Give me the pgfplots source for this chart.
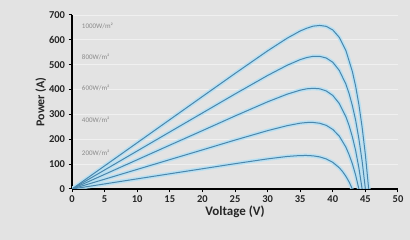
\documentclass[border=0pt]{standalone}
\usepackage{pgfplots}
\pgfplotsset{compat=1.18}
\usepackage{fontspec}
\setmainfont{Carlito}
\definecolor{bg}{HTML}{E3E3E3}
\definecolor{gridc}{HTML}{F0F0F0}
\definecolor{ln}{HTML}{4A86AC}
\definecolor{halo}{HTML}{B3E0F5}
\definecolor{lbl}{HTML}{8A8A8A}
\begin{document}
\begin{tikzpicture}
\fill[bg] (0,0) rectangle (410pt,240pt);
\useasboundingbox (0,0) rectangle (410pt,240pt);
\begin{axis}[
  at={(72pt,51pt)}, anchor=south west,
  scale only axis, width=326pt, height=174pt,
  xmin=0, xmax=50, ymin=0, ymax=700,
  xtick={0,5,...,50}, ytick={0,100,...,700},
  axis x line*=bottom, axis y line*=left,
  axis line style={black, line width=1.1pt},
  tick align=outside, major tick length=3.5pt,
  tick style={black, line width=1pt},
  xmajorgrids=false, ymajorgrids=true, grid style={gridc, line width=0.9pt},
  ticklabel style={font=\bfseries\fontsize{10.5}{11}\selectfont, text=black!85},
  /pgf/number format/assume math mode=true,
  xlabel={\bfseries Voltage (V)}, ylabel={\bfseries Power (A)},
  xlabel style={font=\fontsize{13}{14}\selectfont\bfseries, text=black!85, yshift=4pt},
  ylabel style={font=\fontsize{12}{13}\selectfont\bfseries, text=black!85, yshift=-4pt},
  every axis plot/.append style={line join=round},
]
\addplot[draw=white, line width=0.8pt, forget plot] coordinates {(50,0) (50,700)};
% halos
\addplot[halo, line width=4pt, opacity=0.85, forget plot] coordinates {
(0,0) (5,93) (10,186) (15,279) (20,372) (25,464.7) (30,555.8) (33,606.7) (35,635.7) (36,646.8) (37,655.2) (38,658) (39,654.3) (40,639.8) (41,609.7) (42,557.8) (43,472.7) (43.5,414) (44,339.6) (44.5,248) (45,137.3) (45.5,0)};
\addplot[halo, line width=4pt, opacity=0.85, forget plot] coordinates {
(0,0) (5,76.5) (10,153) (15,229.5) (20,305.8) (25,382.1) (30,456.7) (33,497.8) (35,520.5) (36,528.8) (37,533.8) (38,533.7) (39,526.9) (40,509.8) (41,476.8) (42,422.2) (42.5,384) (43,335.5) (43.5,277) (44,202.0) (44.5,111.7) (45,0)};
\addplot[halo, line width=4pt, opacity=0.85, forget plot] coordinates {
(0,0) (5,58.8) (10,117.6) (15,176.4) (20,234.8) (25,293.7) (30,350.7) (33,381.5) (35,397.6) (36,403.1) (37,405.1) (38,403.1) (39,394.4) (40,376.3) (41,343.8) (42,291.4) (42.5,255) (43,209.9) (43.5,155) (44,84.9) (44.5,0)};
\addplot[halo, line width=4pt, opacity=0.85, forget plot] coordinates {
(0,0) (5,39.4) (10,78.8) (15,118.2) (20,157.3) (25,196.8) (30,234.8) (33,254.8) (35,264.8) (36,267.5) (37,267.7) (38,264.4) (39,256) (40,239.6) (41,212.3) (42,168.8) (42.5,138) (43,101.6) (43.5,56.2) (44,0)};
\addplot[halo, line width=4pt, opacity=0.85, forget plot] coordinates {
(0,0) (5,20.4) (10,40.8) (15,61.2) (20,81.4) (25,101.8) (30,121.2) (33,130.9) (35,134.7) (36,134.8) (37,133.3) (38,129.1) (39,120.9) (40,107.2) (41,85.3) (41.5,70) (42,51.4) (42.5,28.4) (43,0)};
% lines
\addplot[ln, line width=1pt] coordinates {
(0,0) (5,93) (10,186) (15,279) (20,372) (25,464.7) (30,555.8) (33,606.7) (35,635.7) (36,646.8) (37,655.2) (38,658) (39,654.3) (40,639.8) (41,609.7) (42,557.8) (43,472.7) (43.5,414) (44,339.6) (44.5,248) (45,137.3) (45.5,0)};
\addplot[ln, line width=1pt] coordinates {
(0,0) (5,76.5) (10,153) (15,229.5) (20,305.8) (25,382.1) (30,456.7) (33,497.8) (35,520.5) (36,528.8) (37,533.8) (38,533.7) (39,526.9) (40,509.8) (41,476.8) (42,422.2) (42.5,384) (43,335.5) (43.5,277) (44,202.0) (44.5,111.7) (45,0)};
\addplot[ln, line width=1pt] coordinates {
(0,0) (5,58.8) (10,117.6) (15,176.4) (20,234.8) (25,293.7) (30,350.7) (33,381.5) (35,397.6) (36,403.1) (37,405.1) (38,403.1) (39,394.4) (40,376.3) (41,343.8) (42,291.4) (42.5,255) (43,209.9) (43.5,155) (44,84.9) (44.5,0)};
\addplot[ln, line width=1pt] coordinates {
(0,0) (5,39.4) (10,78.8) (15,118.2) (20,157.3) (25,196.8) (30,234.8) (33,254.8) (35,264.8) (36,267.5) (37,267.7) (38,264.4) (39,256) (40,239.6) (41,212.3) (42,168.8) (42.5,138) (43,101.6) (43.5,56.2) (44,0)};
\addplot[ln, line width=1pt] coordinates {
(0,0) (5,20.4) (10,40.8) (15,61.2) (20,81.4) (25,101.8) (30,121.2) (33,130.9) (35,134.7) (36,134.8) (37,133.3) (38,129.1) (39,120.9) (40,107.2) (41,85.3) (41.5,70) (42,51.4) (42.5,28.4) (43,0)};
\node[anchor=west, text=lbl, font=\fontsize{7}{8}\selectfont, inner sep=0pt] at (axis cs:1.5,655) {1000W/m²};
\node[anchor=west, text=lbl, font=\fontsize{7}{8}\selectfont, inner sep=0pt] at (axis cs:1.5,533) {800W/m²};
\node[anchor=west, text=lbl, font=\fontsize{7}{8}\selectfont, inner sep=0pt] at (axis cs:1.5,405) {600W/m²};
\node[anchor=west, text=lbl, font=\fontsize{7}{8}\selectfont, inner sep=0pt] at (axis cs:1.5,276) {400W/m²};
\node[anchor=west, text=lbl, font=\fontsize{7}{8}\selectfont, inner sep=0pt] at (axis cs:1.5,146) {200W/m²};
\end{axis}
\end{tikzpicture}
\end{document}
